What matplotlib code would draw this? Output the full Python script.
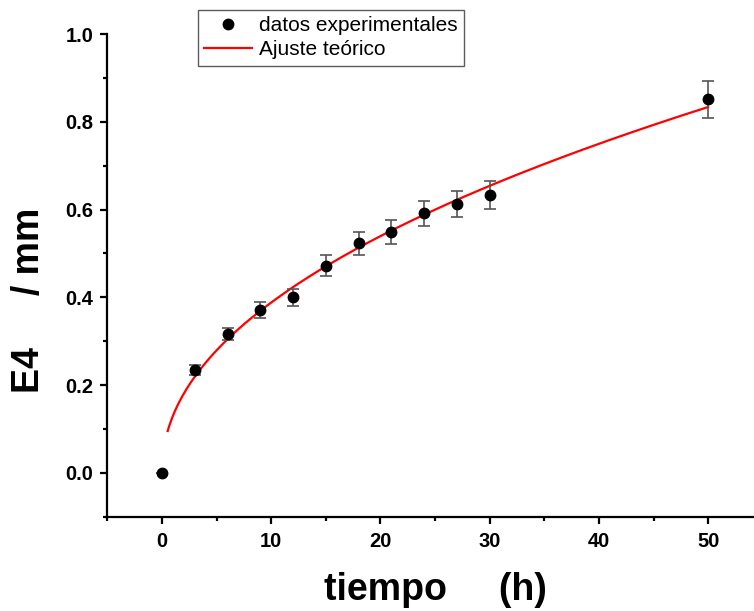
import matplotlib.pyplot as plt
import numpy as np
from matplotlib.ticker import MultipleLocator

plt.rcParams['font.family'] = ['Liberation Sans', 'DejaVu Sans']

# E4 measurements vs time
tiempo = [0, 3, 6, 9, 12, 15, 18, 21, 24, 27, 30, 50]
e4 = [0.0, 0.234, 0.317, 0.371, 0.400, 0.472, 0.5235, 0.548, 0.591, 0.6125, 0.633, 0.851]
err = [0.0, 0.011, 0.014, 0.018, 0.020, 0.0235, 0.026, 0.027, 0.029, 0.0305, 0.032, 0.043]

# theoretical fit E4 = a * t^n
a_fit = 0.130
n_fit = 0.475
t_ini = 0.52
t_fin = 50

fig = plt.figure(figsize=(7.54, 6.11), dpi=100)
ax = fig.add_axes([107.4 / 754, 1 - 516.7 / 611, 1 - 107.4 / 754, (516.7 - 34) / 611])

ax.errorbar(tiempo, e4, yerr=err, fmt='none', ecolor='#555555',
            elinewidth=1.2, capsize=4, capthick=1.2, zorder=3)
ax.plot(tiempo, e4, 'o', color='black', ms=7.5, label='datos experimentales', zorder=4)

t = np.linspace(t_ini, t_fin, 400)
ax.plot(t, a_fit * t ** n_fit, color='red', lw=1.6, label='Ajuste teórico', zorder=2)

ax.set_xlim(-5, 54.2)
ax.set_ylim(-0.1, 1.0)
ax.xaxis.set_major_locator(MultipleLocator(10))
ax.xaxis.set_minor_locator(MultipleLocator(5))
ax.yaxis.set_major_locator(MultipleLocator(0.2))
ax.yaxis.set_minor_locator(MultipleLocator(0.1))
ax.set_xticks([0, 10, 20, 30, 40, 50])
ax.set_yticks([0.0, 0.2, 0.4, 0.6, 0.8, 1.0])
ax.set_yticklabels(['0.0', '0.2', '0.4', '0.6', '0.8', '1.0'])

ax.spines['top'].set_visible(False)
ax.spines['right'].set_visible(False)
for s in ['left', 'bottom']:
    ax.spines[s].set_linewidth(1.6)
ax.tick_params(which='major', direction='out', length=5, width=1.6, labelsize=14.5)
ax.tick_params(axis='x', which='major', pad=6)
ax.tick_params(axis='y', which='major', pad=5)
ax.tick_params(which='minor', direction='out', length=3, width=1.6)
for lab in ax.get_xticklabels() + ax.get_yticklabels():
    lab.set_fontweight('bold')

fig.text(435 / 754, 1 - 590 / 611, 'tiempo     (h)', fontsize=27, fontweight='bold',
         ha='center', va='center')
fig.text(29 / 754, 1 - 300 / 611, 'E4     / mm', fontsize=27, fontweight='bold',
         ha='center', va='center', rotation=90)

leg = ax.legend(loc='upper left', bbox_to_anchor=(198 / 754, 1 - 10 / 611),
                bbox_transform=fig.transFigure, borderaxespad=0, fontsize=15,
                frameon=True, fancybox=False, handlelength=2.3, handletextpad=0.35,
                borderpad=0.3, labelspacing=0.25)
leg.get_frame().set_edgecolor('#333333')
leg.get_frame().set_linewidth(1.0)

fig.savefig('out.png', dpi=100)
